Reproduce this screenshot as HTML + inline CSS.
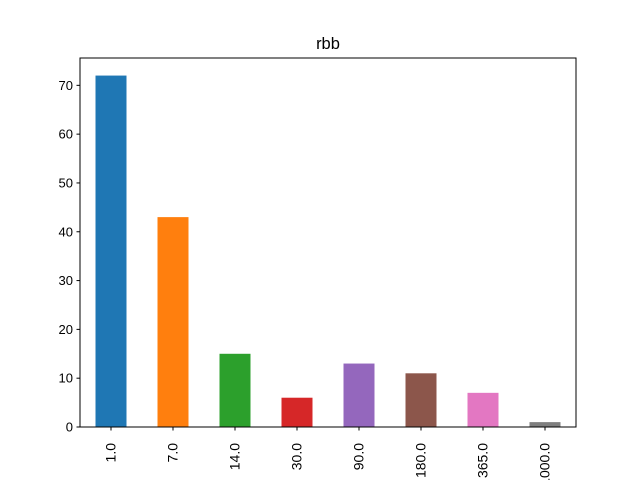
<!DOCTYPE html>
<html><head><meta charset="utf-8"><style>
body{margin:0;background:#fff;overflow:hidden;}
svg{display:block;font-family:"Liberation Sans","DejaVu Sans",sans-serif;}
</style></head><body>
<svg id="c" width="640" height="480" viewBox="0 0 640 480">
<rect width="640" height="480" fill="#fff"/>
<text x="328" y="49" font-size="16.5" text-anchor="middle">rbb</text>
<g id="bars"></g>
<g id="yt"></g>
<g id="xt"></g>
<rect x="80" y="58" width="496" height="369" fill="none" stroke="#000" stroke-width="1"/>
</svg>
<script>
const categories = ["1.0","7.0","14.0","30.0","90.0","180.0","365.0","1000.0"];
const values = [72,43,15,6,13,11,7,1];
const colors = ["#1f77b4","#ff7f0e","#2ca02c","#d62728","#9467bd","#8c564b","#e377c2","#7f7f7f"];
const yTicks = [0,10,20,30,40,50,60,70];

const L=80,R=576,T=58,B=427;
const ymax=Math.max(...values)*1.05;
const y=v=>B-(v/ymax)*(B-T);
const step=(R-L)/categories.length;
const xc=i=>L+step*(i+0.5);
const NS="http://www.w3.org/2000/svg";
const bars=document.getElementById('bars'),yt=document.getElementById('yt'),xt=document.getElementById('xt');
values.forEach((v,i)=>{
  const r=document.createElementNS(NS,'rect');
  r.setAttribute('x',xc(i)-step/4);r.setAttribute('width',step/2);
  r.setAttribute('y',y(v));r.setAttribute('height',B-y(v));
  r.setAttribute('fill',colors[i%colors.length]);
  
  
  bars.appendChild(r);
});
yTicks.forEach(t=>{
  const l=document.createElementNS(NS,'line');
  l.setAttribute('x1',L-3.5);l.setAttribute('x2',L);l.setAttribute('y1',y(t));l.setAttribute('y2',y(t));
  l.setAttribute('stroke','#000');
  
  
  yt.appendChild(l);
  const s=document.createElementNS(NS,'text');
  s.setAttribute('x',L-7);s.setAttribute('y',y(t)+4.5);s.setAttribute('font-size','13');s.setAttribute('text-anchor','end');
  s.textContent=t;
  
  
  yt.appendChild(s);
});
categories.forEach((c,i)=>{
  const l=document.createElementNS(NS,'line');
  l.setAttribute('x1',xc(i));l.setAttribute('x2',xc(i));l.setAttribute('y1',B);l.setAttribute('y2',B+3.5);
  l.setAttribute('stroke','#000');
  
  
  xt.appendChild(l);
  const s=document.createElementNS(NS,'text');
  s.setAttribute('transform','translate('+(xc(i)+4.5)+','+(B+16)+') rotate(-90)');
  s.setAttribute('font-size','14');s.setAttribute('text-anchor','end');
  s.textContent=c;
  
  
  xt.appendChild(s);
});
</script>
</body></html>
